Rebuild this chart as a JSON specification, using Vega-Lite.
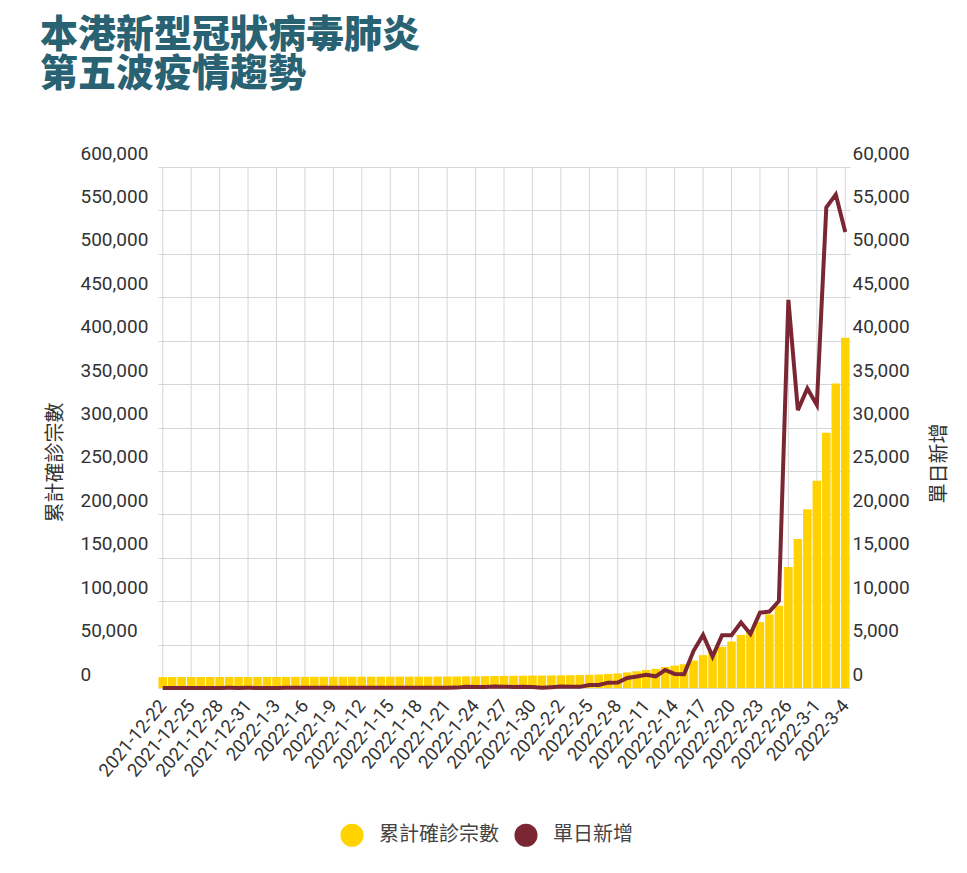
{
  "$schema": "https://vega.github.io/schema/vega-lite/v6.json",
  "width": 769,
  "height": 521,
  "autosize": {"type": "none"},
  "padding": {"left": 80, "top": 167, "right": 118, "bottom": 185},
  "title": {
    "text": ["本港新型冠狀病毒肺炎", "第五波疫情趨勢"],
    "anchor": "start",
    "frame": "group",
    "dx": -40,
    "offset": 50,
    "font": "Noto Sans CJK TC",
    "fontSize": 38,
    "fontWeight": 900,
    "lineHeight": 39,
    "color": "#286273"
  },
  "datasets": {
    "cases": [
      {"date": "2021-12-22", "cumulative": 12600, "daily": 10},
      {"date": "2021-12-23", "cumulative": 12607, "daily": 7},
      {"date": "2021-12-24", "cumulative": 12612, "daily": 5},
      {"date": "2021-12-25", "cumulative": 12626, "daily": 14},
      {"date": "2021-12-26", "cumulative": 12634, "daily": 8},
      {"date": "2021-12-27", "cumulative": 12642, "daily": 8},
      {"date": "2021-12-28", "cumulative": 12648, "daily": 6},
      {"date": "2021-12-29", "cumulative": 12664, "daily": 16},
      {"date": "2021-12-30", "cumulative": 12678, "daily": 14},
      {"date": "2021-12-31", "cumulative": 12695, "daily": 17},
      {"date": "2022-1-1", "cumulative": 12706, "daily": 11},
      {"date": "2022-1-2", "cumulative": 12716, "daily": 10},
      {"date": "2022-1-3", "cumulative": 12729, "daily": 13},
      {"date": "2022-1-4", "cumulative": 12753, "daily": 24},
      {"date": "2022-1-5", "cumulative": 12791, "daily": 38},
      {"date": "2022-1-6", "cumulative": 12827, "daily": 36},
      {"date": "2022-1-7", "cumulative": 12855, "daily": 28},
      {"date": "2022-1-8", "cumulative": 12881, "daily": 26},
      {"date": "2022-1-9", "cumulative": 12906, "daily": 25},
      {"date": "2022-1-10", "cumulative": 12940, "daily": 34},
      {"date": "2022-1-11", "cumulative": 12959, "daily": 19},
      {"date": "2022-1-12", "cumulative": 12978, "daily": 19},
      {"date": "2022-1-13", "cumulative": 12995, "daily": 17},
      {"date": "2022-1-14", "cumulative": 13019, "daily": 24},
      {"date": "2022-1-15", "cumulative": 13043, "daily": 24},
      {"date": "2022-1-16", "cumulative": 13060, "daily": 17},
      {"date": "2022-1-17", "cumulative": 13079, "daily": 19},
      {"date": "2022-1-18", "cumulative": 13100, "daily": 21},
      {"date": "2022-1-19", "cumulative": 13120, "daily": 20},
      {"date": "2022-1-20", "cumulative": 13155, "daily": 35},
      {"date": "2022-1-21", "cumulative": 13192, "daily": 37},
      {"date": "2022-1-22", "cumulative": 13236, "daily": 44},
      {"date": "2022-1-23", "cumulative": 13376, "daily": 140},
      {"date": "2022-1-24", "cumulative": 13501, "daily": 125},
      {"date": "2022-1-25", "cumulative": 13607, "daily": 106},
      {"date": "2022-1-26", "cumulative": 13771, "daily": 164},
      {"date": "2022-1-27", "cumulative": 13913, "daily": 142},
      {"date": "2022-1-28", "cumulative": 14040, "daily": 127},
      {"date": "2022-1-29", "cumulative": 14182, "daily": 142},
      {"date": "2022-1-30", "cumulative": 14284, "daily": 102},
      {"date": "2022-1-31", "cumulative": 14312, "daily": 28},
      {"date": "2022-2-1", "cumulative": 14412, "daily": 100},
      {"date": "2022-2-2", "cumulative": 14576, "daily": 164},
      {"date": "2022-2-3", "cumulative": 14718, "daily": 142},
      {"date": "2022-2-4", "cumulative": 14849, "daily": 131},
      {"date": "2022-2-5", "cumulative": 15200, "daily": 351},
      {"date": "2022-2-6", "cumulative": 15542, "daily": 342},
      {"date": "2022-2-7", "cumulative": 16156, "daily": 614},
      {"date": "2022-2-8", "cumulative": 16781, "daily": 625},
      {"date": "2022-2-9", "cumulative": 17942, "daily": 1161},
      {"date": "2022-2-10", "cumulative": 19267, "daily": 1325},
      {"date": "2022-2-11", "cumulative": 20781, "daily": 1514},
      {"date": "2022-2-12", "cumulative": 22128, "daily": 1347},
      {"date": "2022-2-13", "cumulative": 24199, "daily": 2071},
      {"date": "2022-2-14", "cumulative": 25818, "daily": 1619},
      {"date": "2022-2-15", "cumulative": 27403, "daily": 1585},
      {"date": "2022-2-16", "cumulative": 31688, "daily": 4285},
      {"date": "2022-2-17", "cumulative": 37804, "daily": 6116},
      {"date": "2022-2-18", "cumulative": 41433, "daily": 3629},
      {"date": "2022-2-19", "cumulative": 47496, "daily": 6063},
      {"date": "2022-2-20", "cumulative": 53563, "daily": 6067},
      {"date": "2022-2-21", "cumulative": 61096, "daily": 7533},
      {"date": "2022-2-22", "cumulative": 67307, "daily": 6211},
      {"date": "2022-2-23", "cumulative": 75981, "daily": 8674},
      {"date": "2022-2-24", "cumulative": 84779, "daily": 8798},
      {"date": "2022-2-25", "cumulative": 94789, "daily": 10010},
      {"date": "2022-2-26", "cumulative": 139489, "daily": 44700},
      {"date": "2022-2-27", "cumulative": 171489, "daily": 32000},
      {"date": "2022-2-28", "cumulative": 205989, "daily": 34500},
      {"date": "2022-3-1", "cumulative": 238589, "daily": 32600},
      {"date": "2022-3-2", "cumulative": 293942, "daily": 55353},
      {"date": "2022-3-3", "cumulative": 350769, "daily": 56827},
      {"date": "2022-3-4", "cumulative": 403292, "daily": 52523}
    ],
    "gridDates": [
      {"date": "2021-12-22"}, {"date": "2021-12-25"}, {"date": "2021-12-28"}, {"date": "2021-12-31"},
      {"date": "2022-1-3"}, {"date": "2022-1-6"}, {"date": "2022-1-9"}, {"date": "2022-1-12"},
      {"date": "2022-1-15"}, {"date": "2022-1-18"}, {"date": "2022-1-21"}, {"date": "2022-1-24"},
      {"date": "2022-1-27"}, {"date": "2022-1-30"}, {"date": "2022-2-2"}, {"date": "2022-2-5"},
      {"date": "2022-2-8"}, {"date": "2022-2-11"}, {"date": "2022-2-14"}, {"date": "2022-2-17"},
      {"date": "2022-2-20"}, {"date": "2022-2-23"}, {"date": "2022-2-26"}, {"date": "2022-3-1"},
      {"date": "2022-3-4"}
    ]
  },
  "encoding": {
    "x": {
      "field": "date",
      "type": "ordinal",
      "sort": null,
      "scale": {
        "type": "band",
        "range": [78, 770],
        "paddingInner": 0.1,
        "paddingOuter": 0.05,
        "domain": ["2021-12-22", "2021-12-23", "2021-12-24", "2021-12-25", "2021-12-26", "2021-12-27", "2021-12-28", "2021-12-29", "2021-12-30", "2021-12-31", "2022-1-1", "2022-1-2", "2022-1-3", "2022-1-4", "2022-1-5", "2022-1-6", "2022-1-7", "2022-1-8", "2022-1-9", "2022-1-10", "2022-1-11", "2022-1-12", "2022-1-13", "2022-1-14", "2022-1-15", "2022-1-16", "2022-1-17", "2022-1-18", "2022-1-19", "2022-1-20", "2022-1-21", "2022-1-22", "2022-1-23", "2022-1-24", "2022-1-25", "2022-1-26", "2022-1-27", "2022-1-28", "2022-1-29", "2022-1-30", "2022-1-31", "2022-2-1", "2022-2-2", "2022-2-3", "2022-2-4", "2022-2-5", "2022-2-6", "2022-2-7", "2022-2-8", "2022-2-9", "2022-2-10", "2022-2-11", "2022-2-12", "2022-2-13", "2022-2-14", "2022-2-15", "2022-2-16", "2022-2-17", "2022-2-18", "2022-2-19", "2022-2-20", "2022-2-21", "2022-2-22", "2022-2-23", "2022-2-24", "2022-2-25", "2022-2-26", "2022-2-27", "2022-2-28", "2022-3-1", "2022-3-2", "2022-3-3", "2022-3-4"]
      },
      "axis": {
        "title": null,
        "values": ["2021-12-22", "2021-12-25", "2021-12-28", "2021-12-31", "2022-1-3", "2022-1-6", "2022-1-9", "2022-1-12", "2022-1-15", "2022-1-18", "2022-1-21", "2022-1-24", "2022-1-27", "2022-1-30", "2022-2-2", "2022-2-5", "2022-2-8", "2022-2-11", "2022-2-14", "2022-2-17", "2022-2-20", "2022-2-23", "2022-2-26", "2022-3-1", "2022-3-4"],
        "labelAngle": -50,
        "labelAlign": "right",
        "labelBaseline": "middle",
        "labelPadding": 14,
        "labelFont": "Roboto",
        "labelFontSize": 18.5,
        "labelColor": "#333333",
        "ticks": false,
        "domain": false,
        "grid": false,
        "labelOverlap": false
      }
    }
  },
  "layer": [
    {
      "data": {"name": "gridDates"},
      "mark": {"type": "rule", "color": "#d6d6d6", "strokeWidth": 1},
      "encoding": {}
    },
    {
      "data": {"name": "cases"},
      "mark": {"type": "bar"},
      "encoding": {
        "y": {
          "field": "cumulative",
          "type": "quantitative",
          "scale": {"domain": [0, 600000], "nice": false},
          "axis": {
            "values": [0, 50000, 100000, 150000, 200000, 250000, 300000, 350000, 400000, 450000, 500000, 550000, 600000],
            "format": ",.0f",
            "grid": true,
            "gridColor": "#d6d6d6",
            "ticks": false,
            "domain": false,
            "labelAlign": "left",
            "labelBaseline": "alphabetic",
            "labelOffset": -8,
            "labelPadding": 0,
            "labelFont": "Roboto",
            "labelFontSize": 19,
            "labelColor": "#333333",
            "labelOverlap": false,
            "title": "累計確診宗數",
            "titleFont": "Noto Sans CJK TC",
            "titleFontSize": 20,
            "titleFontWeight": "normal",
            "titleColor": "#333333",
            "titleAngle": 270,
            "titleAlign": "center",
            "titleBaseline": "middle",
            "titleX": -25,
            "titleY": 295
          }
        },
        "color": {
          "datum": "累計確診宗數",
          "scale": {"domain": ["累計確診宗數", "單日新增"], "range": ["#FFD200", "#7B2733"]},
          "legend": {
            "title": null,
            "orient": "none",
            "legendX": 260,
            "legendY": 656,
            "direction": "horizontal",
            "symbolType": "circle",
            "symbolSize": 530,
            "symbolStrokeWidth": 0,
            "labelOffset": 15,
            "columnPadding": 15,
            "padding": 0,
            "labelFont": "Noto Sans CJK TC",
            "labelFontSize": 20,
            "labelColor": "#444444"
          }
        }
      }
    },
    {
      "data": {"name": "cases"},
      "mark": {"type": "line", "strokeWidth": 4, "strokeJoin": "miter"},
      "encoding": {
        "y": {
          "field": "daily",
          "type": "quantitative",
          "scale": {"domain": [0, 60000], "nice": false},
          "axis": {
            "orient": "right",
            "values": [0, 5000, 10000, 15000, 20000, 25000, 30000, 35000, 40000, 45000, 50000, 55000, 60000],
            "format": ",.0f",
            "grid": false,
            "ticks": false,
            "domain": false,
            "labelAlign": "left",
            "labelBaseline": "alphabetic",
            "labelOffset": -8,
            "labelPadding": 3,
            "labelFont": "Roboto",
            "labelFontSize": 19,
            "labelColor": "#333333",
            "labelOverlap": false,
            "title": "單日新增",
            "titleFont": "Noto Sans CJK TC",
            "titleFontSize": 20,
            "titleFontWeight": "normal",
            "titleColor": "#333333",
            "titleAngle": 270,
            "titleAlign": "center",
            "titleBaseline": "middle",
            "titleX": 90,
            "titleY": 296
          }
        },
        "color": {"datum": "單日新增"}
      }
    }
  ],
  "resolve": {"scale": {"y": "independent"}},
  "config": {
    "view": {"stroke": null},
    "background": "#ffffff"
  }
}
